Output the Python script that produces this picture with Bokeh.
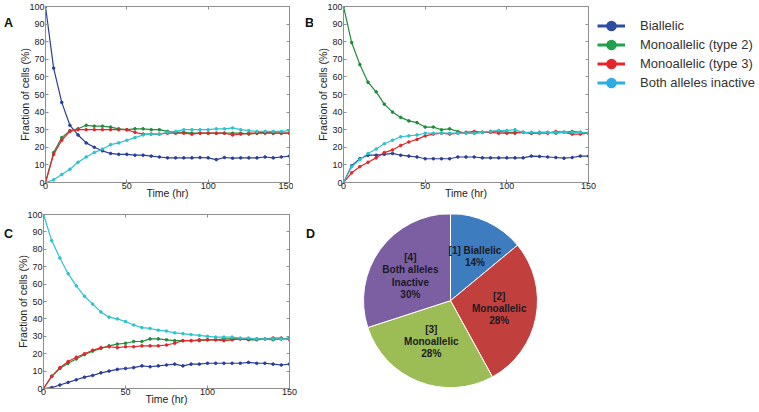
import math
from bokeh.plotting import figure
from bokeh.models import (LinearAxis, FixedTicker, Range1d, Label, Legend,
                          LegendItem, ColumnDataSource, Spacer)
from bokeh.layouts import row, column
from bokeh.embed import file_html
from bokeh.resources import INLINE
from bokeh.core.properties import value

# ---------------- data ----------------
time_hr = [0, 5, 10, 15, 20, 25, 30, 35, 40, 45, 50, 55, 60, 65, 70, 75, 80,
           85, 90, 95, 100, 105, 110, 115, 120, 125, 130, 135, 140, 145, 150]

series_names = ["Biallelic", "Monoallelic (type 2)", "Monoallelic (type 3)",
                "Both alleles inactive"]

A_biallelic = [100, 65, 45.5, 32.5, 27, 22.5, 20, 18, 16.5, 16, 16, 15.5, 15.5, 15, 14.5, 14,
               14, 14, 14, 14.2, 14, 13, 14.2, 13.8, 14, 14, 14, 14.5, 14, 14.5, 15]
A_mono2 = [0, 17, 25.5, 29.5, 30.5, 32.5, 32, 32, 31.5, 30.5, 30, 30.5, 30.5, 30, 30, 29,
           28.5, 28.5, 28, 28, 28, 28, 28, 28, 28, 27.5, 28, 28.5, 28, 28, 28]
A_mono3 = [0, 16, 24, 29, 30, 30, 30, 30, 30, 30, 30, 28.5, 27.5, 27.5, 27.5, 28,
           28, 28, 27.5, 28, 28, 28, 28, 27, 27.5, 28, 28, 28, 28, 28, 28]
A_inactive = [0, 1.5, 4.5, 7.5, 11.5, 14.5, 17, 19, 21.5, 22.5, 24, 25.5, 27, 27.5, 27.5, 28.5,
              29, 30, 30, 30, 30, 30.5, 30.5, 31, 30, 29.5, 29, 29, 29, 29, 29.5]

B_biallelic = [0, 9.5, 13.5, 15.5, 15.5, 16, 16.5, 15.5, 15, 14.5, 13.5, 13.5, 13.5, 13.5, 14.5, 14.5,
               14.5, 14, 14, 14, 14, 14, 14, 15, 14.8, 14.5, 14.2, 13.8, 14.2, 15, 15]
B_mono2 = [100, 79.5, 67, 57, 51.5, 44.5, 40, 37, 35, 34, 31.5, 31.5, 30, 30.5, 29, 28,
           28, 28.5, 29, 29, 28.5, 28.5, 28.5, 28, 28.5, 28.5, 28, 28.5, 29, 28.5, 28]
B_mono3 = [0, 5.5, 9, 11.5, 14, 17, 18.5, 21, 23, 24.5, 26.5, 27.5, 28, 27.5, 28, 28.5,
           29, 28.5, 28.5, 28, 28, 28, 28.5, 28, 28, 28, 29, 28.5, 27.5, 27.5, 28]
B_inactive = [0, 9, 13, 16.5, 19, 22, 24, 26, 26.5, 27, 28, 28, 28, 28, 28, 28,
              28, 28.5, 29, 29.5, 29.5, 30, 28.5, 28.5, 28.5, 28.5, 28.5, 28.5, 28.5, 28.5, 28]

C_biallelic = [0, 0.5, 2, 3.5, 5, 6.5, 7.5, 9, 10, 11, 11.5, 12, 13, 12.5, 13, 13.5,
               14, 13, 14, 14, 14.5, 14.5, 14.5, 14.5, 14.5, 15, 14.5, 14.5, 14, 13.5, 14]
C_mono2 = [0, 7, 11.5, 14.5, 17, 19.5, 21.5, 23, 24.5, 25.5, 26, 27, 27, 28.5, 28.5, 28,
           27.5, 27.5, 27.5, 27.5, 28, 28, 28.5, 28.5, 28.5, 28, 28, 28.5, 28, 28.5, 29]
C_mono3 = [0, 7, 12, 15.5, 18, 20, 22, 23.5, 24, 23.5, 24, 24, 24.5, 24.5, 24.5, 25,
           26, 27.5, 27.5, 28, 28, 28, 27.5, 28, 28.5, 28.5, 28.5, 28.5, 29, 29, 28]
C_inactive = [100, 85, 75, 66, 59, 53, 48.5, 44, 41, 40, 38.5, 36.5, 35, 34.5, 33.5, 33,
              32, 31.5, 31, 30.5, 30, 29.5, 29.5, 29.5, 29, 29, 28.5, 28.5, 28.5, 28.5, 28.5]

x_ticks = [0, 50, 100, 150]
y_ticks = [0, 10, 20, 30, 40, 50, 60, 70, 80, 90, 100]

pie_labels = ["[1] Biallelic\n14%", "[2]\nMonoallelic\n28%", "[3]\nMonoallelic\n28%",
              "[4]\nBoth alleles\nInactive\n30%"]
pie_values = [14, 28, 28, 30]

# ---------------- style ----------------
FONT = "Liberation Sans"
AX = "#8f8f8f"
TXT = "#222222"
line_colors = ["#2b3d9a", "#1e8c3a", "#e3262a", "#2cc3cc"]
legend_colors = ["#2d4da0", "#21a04b", "#e5262b", "#2fade2"]
pie_colors = ["#3e7cc0", "#c13f3d", "#9cbc55", "#7c5fa3"]
pie_label_r = [0.66, 0.57, 0.6, 0.57]


def style_axis(ax):
    ax.axis_line_color = AX
    ax.major_tick_line_color = AX
    ax.minor_tick_line_color = None
    ax.major_tick_in = 3
    ax.major_tick_out = 0
    ax.major_label_text_font = FONT
    ax.major_label_text_font_size = "9px"
    ax.major_label_text_color = TXT
    ax.axis_label_text_font = FONT
    ax.axis_label_text_font_size = "10.5px"
    ax.axis_label_text_font_style = "normal"
    ax.axis_label_text_color = TXT


def blank_fig(width, height, xr=None, yr=None):
    p = figure(width=width, height=height, output_backend="svg", toolbar_location=None,
               x_range=xr or Range1d(0, width), y_range=yr or Range1d(0, height),
               x_axis_location=None, y_axis_location=None, min_border=0)
    p.grid.visible = False
    p.outline_line_color = None
    return p


def letter_fig(letter, width, height, cx, cy_top):
    p = blank_fig(width, height)
    p.add_layout(Label(x=cx, y=height - cy_top, text=letter, text_font=FONT,
                       text_font_size="12.5px", text_font_style="bold",
                       text_color="#111111", text_align="center",
                       text_baseline="middle"))
    return p


def line_panel(series, width, height, left, right, top, bottom):
    p = figure(width=width, height=height, output_backend="svg", toolbar_location=None,
               x_range=Range1d(0, 150), y_range=Range1d(0, 100),
               min_border_left=left, min_border_right=right,
               min_border_top=top, min_border_bottom=bottom,
               x_axis_label="Time (hr)", y_axis_label="Fraction of cells (%)")
    p.grid.visible = False
    p.outline_line_color = AX
    p.xaxis.ticker = FixedTicker(ticks=x_ticks)
    p.yaxis.ticker = FixedTicker(ticks=y_ticks)
    for ax in p.xaxis + p.yaxis:
        style_axis(ax)
    p.xaxis.major_label_standoff = 0
    p.xaxis.axis_label_standoff = -5
    p.yaxis.major_label_standoff = 1
    p.yaxis.axis_label_standoff = -5
    for loc, ticks in (("above", x_ticks), ("right", y_ticks)):
        ax = LinearAxis(ticker=FixedTicker(ticks=ticks))
        style_axis(ax)
        ax.major_label_text_font_size = "0px"
        ax.major_label_standoff = 0
        p.add_layout(ax, loc)
    for vals, color in zip(series, line_colors):
        p.line(time_hr, vals, line_color=color, line_width=1.2)
        p.scatter(time_hr, vals, size=2.6, marker="circle", fill_color=color,
                  line_color=color)
    return p


ROW1_H = 204
ROW2_H = 206

lA = letter_fig("A", 14, ROW1_H, 8, 19)
pA = line_panel([A_biallelic, A_mono2, A_mono3, A_inactive], 279, ROW1_H, 31, 4, 6, 22)
lB = letter_fig("B", 20, ROW1_H, 16, 19)
pB = line_panel([B_biallelic, B_mono2, B_mono3, B_inactive], 284, ROW1_H, 30, 9, 6, 22)
lC = letter_fig("C", 14, ROW2_H, 8, 22.5)
pC = line_panel([C_biallelic, C_mono2, C_mono3, C_inactive], 285, ROW2_H, 29, 10, 10, 22)

# ---------------- legend panel ----------------
LEG_W = 161
LEG_TOP = 16
pL = blank_fig(LEG_W, ROW1_H - LEG_TOP, Range1d(1000, 1001), Range1d(1000, 1001))
items = []
for name, vals, color in zip(series_names, [A_biallelic, A_mono2, A_mono3, A_inactive],
                             legend_colors):
    lr = pL.line(time_hr, vals, line_color=color, line_width=3)
    sr = pL.scatter(time_hr, vals, marker="circle", fill_color=color,
                    line_color=color, line_width=3)
    items.append(LegendItem(label=name, renderers=[lr, sr]))
leg = Legend(items=items, location="top_left", padding=0, margin=0, spacing=0,
             glyph_width=28, glyph_height=19, label_height=19, label_standoff=15,
             label_text_font=FONT, label_text_font_size="13px",
             label_text_color="#333333", border_line_color=None,
             background_fill_alpha=0)
pL.add_layout(leg)
legend_col = column(Spacer(width=LEG_W, height=LEG_TOP), pL)

# ---------------- pie panel ----------------
R_PX = 87
D_W = 459
CX, CY_TOP = 151, 102
pD = blank_fig(D_W, ROW2_H,
               Range1d(-CX / R_PX, (D_W - CX) / R_PX),
               Range1d(-(ROW2_H - CY_TOP) / R_PX, CY_TOP / R_PX))

total = float(sum(pie_values))
starts, ends, lx, ly = [], [], [], []
cum = 0.0
for v, rr in zip(pie_values, pie_label_r):
    f0 = cum / total
    f1 = (cum + v) / total
    starts.append(math.pi / 2 - 2 * math.pi * f0)
    ends.append(math.pi / 2 - 2 * math.pi * f1)
    mid = math.pi / 2 - 2 * math.pi * (f0 + f1) / 2
    lx.append(rr * math.cos(mid))
    ly.append(rr * math.sin(mid))
    cum += v

pie_src = ColumnDataSource(data=dict(start=starts, end=ends, color=pie_colors,
                                     lx=lx, ly=ly, label=pie_labels))
pD.wedge(x=0, y=0, radius=1, start_angle="start", end_angle="end",
         direction="clock", fill_color="color", line_color="white",
         line_width=1, source=pie_src)
pD.text(x="lx", y="ly", text="label", source=pie_src, text_font=value(FONT),
        text_font_size="10px", text_font_style="bold", text_color="#1a1a22",
        text_align="center", text_baseline="middle", text_line_height=1.1)
pD.add_layout(Label(x=-140.0 / R_PX, y=79.0 / R_PX, text="D", text_font=FONT,
                    text_font_size="12.5px", text_font_style="bold",
                    text_color="#111111", text_align="center",
                    text_baseline="middle"))

layout = column(row(lA, pA, lB, pB, legend_col), row(lC, pC, pD))
open("out.html", "w").write(file_html(layout, INLINE))
